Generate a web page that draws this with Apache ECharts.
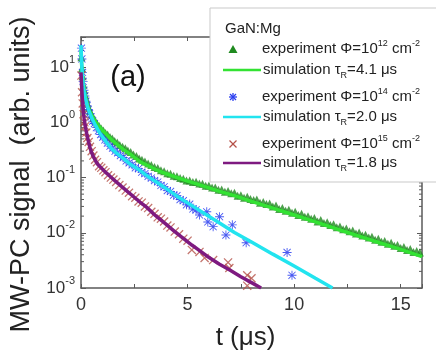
<!DOCTYPE html>
<html><head><meta charset="utf-8">
<script src="https://cdn.jsdelivr.net/npm/echarts@6/dist/echarts.min.js"></script>
<style>html,body{margin:0;padding:0;background:#fff}#c{width:436px;height:352px}</style>
</head><body><div id="c"></div>
<script>
// ---------- data (t in µs, signal in arb. units) ----------
const xTickLabels = [0, 5, 10, 15];
const yMinorTicks = [0.002,0.003,0.004,0.005,0.006,0.007,0.008,0.009,
  0.02,0.03,0.04,0.05,0.06,0.07,0.08,0.09,
  0.2,0.3,0.4,0.5,0.6,0.7,0.8,0.9,
  2,3,4,5,6,7,8,9,20,30];

const simGreen = [[0,20],[0.03,11],[0.06,7],[0.1,5],[0.15,3.7],[0.2,3.0],[0.3,2.1],[0.4,1.6],[0.55,1.25],[0.7,1.0],[0.85,0.84],[1.0,0.72],[1.25,0.57],[1.5,0.46],[1.75,0.38],[2.0,0.32],[2.4,0.25],[2.8,0.19],[3.2,0.16],[3.6,0.134],[4.0,0.117],[4.5,0.10],[5.0,0.086],[5.5,0.075],[6.0,0.065],[6.5,0.056],[7.2,0.047],[8,0.037],[9,0.028],[10,0.021],[11,0.0157],[12,0.0117],[13,0.0088],[14,0.0066],[15,0.005],[16,0.0037]];
const simCyan = [[0,25],[0.03,12],[0.06,7.5],[0.1,5],[0.15,3.6],[0.2,2.8],[0.3,1.95],[0.4,1.5],[0.55,1.1],[0.7,0.85],[0.85,0.67],[1.0,0.55],[1.2,0.43],[1.45,0.33],[1.7,0.27],[2.0,0.22],[2.35,0.17],[2.76,0.135],[3.1,0.107],[3.5,0.085],[4.0,0.063],[4.5,0.046],[5.2,0.031],[5.9,0.021],[6.5,0.015],[7.2,0.0101],[8,0.0068],[9,0.0041],[10,0.0025],[11,0.0015],[11.8,0.001]];
const simPurple = [[0,8],[0.03,4.5],[0.06,2.8],[0.1,1.7],[0.15,1.15],[0.2,0.85],[0.27,0.62],[0.35,0.45],[0.42,0.35],[0.5,0.28],[0.6,0.23],[0.7,0.195],[0.8,0.17],[1.0,0.143],[1.2,0.12],[1.4,0.102],[1.6,0.087],[1.9,0.069],[2.2,0.055],[2.5,0.044],[2.8,0.035],[3.1,0.0285],[3.5,0.0204],[3.9,0.0153],[4.4,0.0105],[4.8,0.0079],[5.2,0.006],[5.55,0.0048],[5.9,0.0038],[6.5,0.0027],[7.0,0.0021],[7.5,0.0016],[8.0,0.00125],[8.45,0.001]];

const expGreen = [[0.02,15],[0.05,9.5],[0.08,6.8],[0.12,4.8],[0.16,3.8],[0.2,3.1],[0.25,2.6],[0.3,2.2],[0.36,1.85],[0.42,1.6],[0.5,1.4],[0.58,1.2],[0.66,1.08],[0.75,0.95],[0.85,0.86],[0.95,0.77],[1.05,0.71],[1.15,0.64],[1.25,0.6],[1.36,0.54],[1.47,0.51],[1.58,0.46],[1.7,0.43],[1.82,0.39],[1.95,0.36],[2.08,0.34],[2.2,0.31],[2.33,0.29],[2.46,0.26],[2.6,0.245],[2.73,0.22],[2.86,0.21],[3.0,0.195],[3.15,0.18],[3.3,0.168],[3.45,0.155],[3.6,0.148],[3.75,0.135],[3.9,0.13],[4.05,0.12],[4.2,0.117],[4.35,0.108],[4.5,0.106],[4.65,0.098],[4.8,0.095],[4.95,0.088],
[5.1,0.088],[5.25,0.083],[5.4,0.084],[5.55,0.078],[5.7,0.077],[5.85,0.071],[6.0,0.072],[6.15,0.066],[6.3,0.066],[6.45,0.06],[6.6,0.061],[6.75,0.055],[6.9,0.057],[7.05,0.052],[7.2,0.053],[7.35,0.047],[7.5,0.048],[7.65,0.043],[7.8,0.045],[7.95,0.041],[8.1,0.039],[8.25,0.04],[8.4,0.035],[8.55,0.036],[8.7,0.033],[8.85,0.034],[9.0,0.03],[9.15,0.031],[9.3,0.027],[9.45,0.028],[9.6,0.025],[9.75,0.026],[9.9,0.023],[10.05,0.024],[10.2,0.021],[10.35,0.022],[10.5,0.0195],[10.65,0.02],[10.8,0.018],[10.95,0.0185],[11.1,0.016],[11.25,0.017],[11.4,0.015],[11.55,0.0155],[11.7,0.0138],[11.85,0.0142],[12.0,0.0126],[12.15,0.013],[12.3,0.0116],[12.45,0.012],[12.6,0.0106],[12.75,0.011],[12.9,0.0097],[13.05,0.0101],[13.2,0.0089],[13.35,0.0092],[13.5,0.0082],[13.65,0.0085],[13.8,0.0075],[13.95,0.0078],[14.1,0.0069],[14.25,0.0071],[14.4,0.0063],[14.55,0.0066],[14.7,0.0058],[14.85,0.006],[15.0,0.0053],[15.15,0.0055],[15.3,0.0049],[15.45,0.0051],[15.6,0.0045],[15.75,0.0047],[15.9,0.0044]];

const expBlue = [[0.02,22],[0.04,14],[0.07,8],[0.1,5.5],[0.14,3.8],[0.18,3],[0.23,2.4],[0.28,2.0],[0.34,1.7],[0.4,1.45],[0.47,1.25],[0.55,1.05],[0.63,0.95],[0.72,0.8],[0.82,0.7],[0.92,0.6],[1.02,0.54],[1.12,0.48],[1.24,0.42],[1.36,0.37],[1.48,0.34],[1.6,0.30],[1.72,0.28],[1.85,0.25],[1.98,0.23],[2.12,0.2],[2.26,0.185],[2.4,0.17],[2.55,0.15],[2.7,0.145],[2.85,0.125],[3.0,0.118],[3.15,0.105],[3.3,0.098],[3.45,0.088],[3.6,0.083],[3.75,0.072],[3.9,0.068],[4.05,0.058],[4.2,0.056],[4.35,0.048],[4.5,0.047],[4.65,0.04],[4.8,0.038],[4.95,0.032],[5.1,0.033],[5.25,0.027],[5.4,0.026],[5.56,0.021],[5.9,0.024],[5.95,0.0157],[6.2,0.0129],[6.5,0.0195],[6.8,0.0091],[7.1,0.0139],[7.75,0.0066],[9.67,0.0044],[9.9,0.0017]];

const expBrown = [[0.02,7],[0.05,3.5],[0.08,2.2],[0.12,1.4],[0.16,1.0],[0.2,0.85],[0.25,0.65],[0.3,0.52],[0.36,0.44],[0.42,0.36],[0.5,0.3],[0.58,0.25],[0.66,0.21],[0.75,0.19],[0.85,0.16],[0.95,0.15],[1.05,0.135],[1.15,0.125],[1.27,0.11],[1.4,0.1],[1.52,0.092],[1.65,0.083],[1.8,0.073],[1.95,0.066],[2.1,0.058],[2.25,0.053],[2.4,0.046],[2.55,0.043],[2.7,0.037],[2.85,0.035],[3.0,0.03],[3.15,0.028],[3.3,0.024],[3.45,0.022],[3.6,0.019],[3.75,0.018],[3.9,0.016],[4.05,0.0135],[4.2,0.0125],[4.4,0.0105],[4.6,0.0094],[4.8,0.0078],[5.0,0.0072],[5.2,0.0049],[5.56,0.0045],[5.8,0.0035],[6.2,0.0032],[6.9,0.0029],[6.96,0.0023],[7.8,0.0017],[8.0,0.0015],[7.8,0.0011]];

const legendTitle = 'GaN:Mg';
const legendLabels = [
  'experiment Φ=10{sup|12} cm{sup|-2}',
  'simulation τ{sub|R}=4.1 μs',
  'experiment Φ=10{sup|14} cm{sup|-2}',
  'simulation τ{sub|R}=2.0 μs',
  'experiment Φ=10{sup|15} cm{sup|-2}',
  'simulation τ{sub|R}=1.8 μs'
];

// ---------- styles ----------
const FONT = '"Liberation Sans", Arial, sans-serif';
const AX = '#5a5a5a';
const C_TRI = '#1f8a1f', C_GREEN = '#33e233', C_STAR = '#2b3ff0', C_CYAN = '#22e4ef', C_X = '#b5524a', C_PURPLE = '#7e1a80';
const STAR = 'path://M0,4.5 L10,4.5 L10,5.5 L0,5.5 Z M4.5,0 L5.5,0 L5.5,10 L4.5,10 Z M0.7,1.4 L1.4,0.7 L9.3,8.6 L8.6,9.3 Z M8.6,0.7 L9.3,1.4 L1.4,9.3 L0.7,8.6 Z';
const CROSS = 'path://M0,1 L1,0 L10,9 L9,10 Z M9,0 L10,1 L1,10 L0,9 Z';

const supRich = {
  b: {fontSize: 17, lineHeight: 26, fontFamily: FONT, color: '#333'},
  sup: {fontSize: 11, lineHeight: 11, verticalAlign: 'top', fontFamily: FONT, color: '#333'}
};
const legRich = {
  sup: {fontSize: 9, lineHeight: 9, verticalAlign: 'top', fontFamily: FONT, fill: '#222', color:'#222'},
  sub: {fontSize: 9, lineHeight: 9, verticalAlign: 'bottom', fontFamily: FONT, fill: '#222', color:'#222'}
};

const chart = echarts.init(document.getElementById('c'), null, {renderer: 'canvas'});

const axisCommon = {
  axisLine: {show: true, onZero: false, lineStyle: {color: AX, width: 1.5}},
  splitLine: {show: false}
};

const rowsY = [49, 70, 97, 117, 144, 163];
const legendX0 = 210, legendY0 = 8;
const sx = 233;
function seg(x1, y1, x2, y2, color, w) {
  return {type: 'line', z: 101, shape: {x1: x1, y1: y1, x2: x2, y2: y2}, style: {stroke: color, lineWidth: w}};
}
const graphic = [
  {type: 'rect', z: 100, shape: {x: legendX0, y: legendY0, width: 240, height: 174},
   style: {fill: '#fff', stroke: '#c9c9c9', lineWidth: 1}},
  {type: 'text', z: 101, x: 225, y: 29, style: {text: legendTitle, fontSize: 15, fontFamily: FONT, fill: '#222', verticalAlign: 'middle'}},
  {type: 'polygon', z: 101, shape: {points: [[sx, 45], [sx + 4.5, 53], [sx - 4.5, 53]]}, style: {fill: C_TRI}},
  seg(223, rowsY[1], 261, rowsY[1], C_GREEN, 2.5),
  seg(sx - 4, rowsY[2], sx + 4, rowsY[2], C_STAR, 1.3),
  seg(sx, rowsY[2] - 4, sx, rowsY[2] + 4, C_STAR, 1.3),
  seg(sx - 3, rowsY[2] - 3, sx + 3, rowsY[2] + 3, C_STAR, 1.3),
  seg(sx - 3, rowsY[2] + 3, sx + 3, rowsY[2] - 3, C_STAR, 1.3),
  seg(223, rowsY[3], 261, rowsY[3], C_CYAN, 2.5),
  seg(sx - 3.5, rowsY[4] - 3.5, sx + 3.5, rowsY[4] + 3.5, C_X, 1.2),
  seg(sx - 3.5, rowsY[4] + 3.5, sx + 3.5, rowsY[4] - 3.5, C_X, 1.2),
  seg(223, rowsY[5], 261, rowsY[5], C_PURPLE, 2.5),
  {type: 'text', z: 50, x: 128, y: 78, style: {text: '(a)', fontSize: 29, fontFamily: FONT, fill: '#111', align: 'center', verticalAlign: 'middle'}}
];
legendLabels.forEach((t, i) => {
  graphic.push({type: 'text', z: 101, x: i % 2 === 0 ? 262 : 263, y: rowsY[i],
    style: {text: t, rich: legRich, fontSize: 15, lineHeight: 20, fontFamily: FONT, fill: '#222', verticalAlign: 'middle'}});
});

const option = {
  animation: false,
  backgroundColor: '#fff',
  grid: {left: 81, top: 37, right: 14, bottom: 64, containLabel: false, outerBoundsMode: 'none'},
  xAxis: [
    Object.assign({}, axisCommon, {
      type: 'value', min: 0, max: 16, interval: 2.5, position: 'bottom',
      axisTick: {show: true, inside: true, length: 4, lineStyle: {color: AX}},
      axisLabel: {margin: 8, fontSize: 18, fontFamily: FONT, color: '#333',
        formatter: v => (xTickLabels.indexOf(v) >= 0 ? String(v) : '')},
      name: 't (μs)', nameLocation: 'middle', nameGap: 37,
      nameTextStyle: {fontSize: 26, fontFamily: FONT, color: '#222', padding: [0, 12, 0, 0]}
    }),
    Object.assign({}, axisCommon, {
      type: 'value', min: 0, max: 16, interval: 2.5, position: 'top',
      axisTick: {show: true, inside: true, length: 4, lineStyle: {color: AX}},
      axisLabel: {show: false}
    })
  ],
  yAxis: [
    Object.assign({}, axisCommon, {
      type: 'log', logBase: 10, min: 0.001, max: 35, position: 'left',
      axisTick: {show: true, inside: true, length: 5, lineStyle: {color: AX}},
      axisLabel: {margin: 6, rich: supRich,
        formatter: v => {
          const e = Math.log10(v);
          if (Math.abs(e - Math.round(e)) > 1e-6) return '';
          return '{b|10}{sup|' + Math.round(e) + '}';
        }},
      name: 'MW-PC signal  (arb. units)', nameLocation: 'middle', nameGap: 31,
      nameTextStyle: {fontSize: 27, fontFamily: FONT, color: '#222', padding: [0, 24, 0, 0]}
    }),
    Object.assign({}, axisCommon, {
      type: 'log', logBase: 10, min: 0.001, max: 35, position: 'right',
      axisTick: {show: true, inside: true, length: 5, lineStyle: {color: AX}},
      axisLabel: {show: false}
    })
  ],
  series: [
    {type: 'custom', silent: true, xAxisIndex: 0, yAxisIndex: 0, z: 1, clip: false,
     data: yMinorTicks.map(v => [0, v]),
     renderItem: (params, api) => {
       const v = api.value(1);
       const pL = api.coord([0, v]);
       const pR = api.coord([16, v]);
       return {type: 'group', children: [
         {type: 'line', shape: {x1: pL[0], y1: pL[1], x2: pL[0] + 3, y2: pL[1]}, style: {stroke: AX, lineWidth: 1}},
         {type: 'line', shape: {x1: pR[0], y1: pR[1], x2: pR[0] - 3, y2: pR[1]}, style: {stroke: AX, lineWidth: 1}}
       ]};
     }},
    {name: 'expGreen', type: 'scatter', data: expGreen, symbol: 'triangle', symbolSize: 8,
     itemStyle: {color: C_TRI}, z: 3, silent: true},
    {name: 'expBlue', type: 'scatter', data: expBlue, symbol: STAR, symbolSize: 9,
     itemStyle: {color: C_STAR, opacity: 0.85}, z: 3, silent: true},
    {name: 'expBrown', type: 'scatter', data: expBrown, symbol: CROSS, symbolSize: 9,
     itemStyle: {color: C_X, opacity: 0.8}, z: 3, silent: true},
    {name: 'simGreen', type: 'line', data: simGreen, showSymbol: false, smooth: false,
     lineStyle: {color: C_GREEN, width: 3.5}, z: 5, silent: true},
    {name: 'simCyan', type: 'line', data: simCyan, showSymbol: false, smooth: false,
     lineStyle: {color: C_CYAN, width: 3.5}, z: 5, silent: true},
    {name: 'simPurple', type: 'line', data: simPurple, showSymbol: false, smooth: false,
     lineStyle: {color: C_PURPLE, width: 3.5}, z: 5, silent: true}
  ],
  graphic: graphic
};
chart.setOption(option);
</script>
</body></html>
